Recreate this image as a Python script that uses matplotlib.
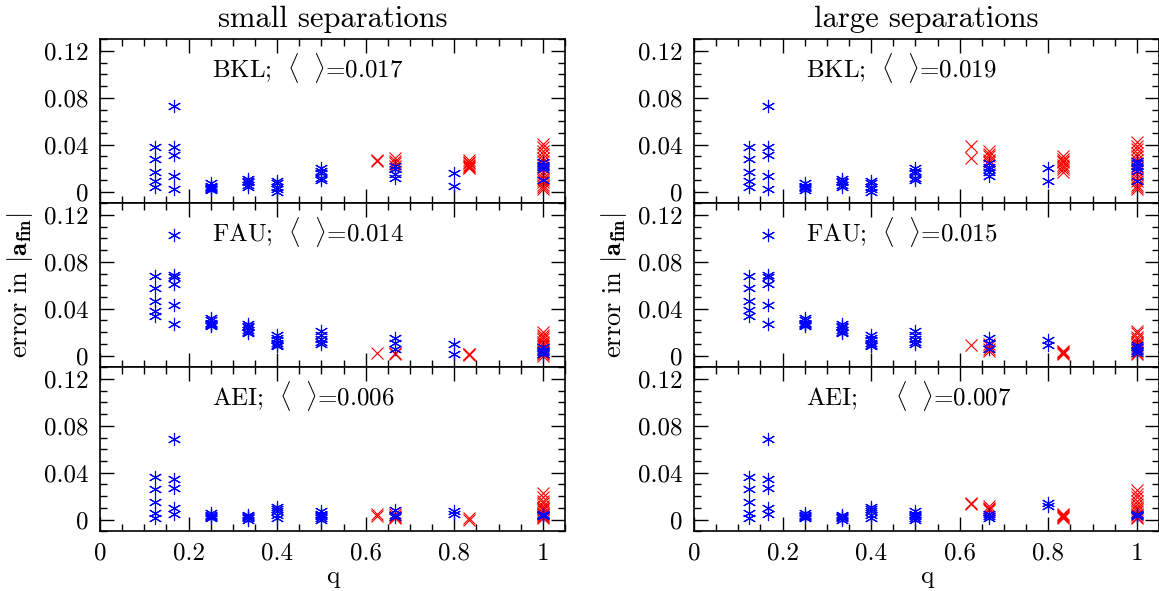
import matplotlib
matplotlib.use("Agg")
import matplotlib.pyplot as plt
from matplotlib.ticker import FixedLocator, FixedFormatter, MultipleLocator

plt.rcParams["font.family"] = "cmr10"
plt.rcParams["mathtext.fontset"] = "cm"
plt.rcParams["axes.unicode_minus"] = False

# mass ratios of the runs
Q_BLUE = [1 / 8, 1 / 6, 1 / 4, 1 / 3, 0.4, 0.5, 2 / 3, 0.8, 1.0]
Q_RED = [0.625, 2 / 3, 5 / 6, 1.0]

# ---- small separations ----
BKL_SMALL_BLUE = [
    [0.038, 0.028, 0.017, 0.009, 0.004],
    [0.073, 0.038, 0.031, 0.013, 0.002],
    [0.007, 0.005, 0.004, 0.003, 0.002, 0.001],
    [0.011, 0.009, 0.008, 0.006, 0.004],
    [0.009, 0.007, 0.004, 0.002, 0.000],
    [0.020, 0.018, 0.016, 0.012, 0.010],
    [0.022, 0.019, 0.015, 0.012],
    [0.016, 0.005],
    [0.025, 0.023, 0.022, 0.021, 0.019, 0.010],
]
BKL_SMALL_RED = [
    [0.027, 0.026],
    [0.029, 0.026, 0.024, 0.022],
    [0.027, 0.025, 0.024, 0.023, 0.022, 0.021, 0.020],
    [0.041, 0.038, 0.035, 0.032, 0.029, 0.026, 0.023, 0.020, 0.017,
     0.014, 0.012, 0.010, 0.008, 0.006, 0.004, 0.002],
]
FAU_SMALL_BLUE = [
    [0.068, 0.058, 0.047, 0.038, 0.034],
    [0.103, 0.069, 0.067, 0.061, 0.043, 0.027],
    [0.032, 0.030, 0.028, 0.027, 0.026, 0.025],
    [0.027, 0.025, 0.024, 0.022, 0.020, 0.019],
    [0.018, 0.015, 0.013, 0.011, 0.009, 0.008],
    [0.021, 0.018, 0.014, 0.012, 0.010],
    [0.015, 0.011, 0.006],
    [0.010, 0.001],
    [0.007, 0.005, 0.004, 0.003, 0.001],
]
FAU_SMALL_RED = [
    [0.002],
    [0.002, 0.001],
    [0.0015, 0.001, 0.0005],
    [0.020, 0.018, 0.016, 0.014, 0.012, 0.010, 0.008, 0.006,
     0.004, 0.003, 0.002, 0.001, 0.000],
]
AEI_SMALL_BLUE = [
    [0.036, 0.026, 0.015, 0.006, 0.001],
    [0.069, 0.035, 0.027, 0.010, 0.005],
    [0.006, 0.004, 0.003, 0.002, 0.001],
    [0.004, 0.003, 0.002, 0.001, 0.000],
    [0.011, 0.009, 0.007, 0.004, 0.001],
    [0.007, 0.005, 0.004, 0.003, 0.001, 0.000],
    [0.008, 0.004, 0.002],
    [0.007, 0.005],
    [0.005, 0.004, 0.004, 0.003],
]
AEI_SMALL_RED = [
    [0.005, 0.003],
    [0.005, 0.003, 0.002, 0.001],
    [0.001, 0.000],
    [0.023, 0.019, 0.016, 0.014, 0.012, 0.010, 0.009, 0.008, 0.006,
     0.005, 0.004, 0.003, 0.002, 0.001],
]

# ---- large separations ----
BKL_LARGE_BLUE = [
    [0.038, 0.028, 0.017, 0.009, 0.004],
    [0.073, 0.038, 0.031, 0.013, 0.002],
    [0.007, 0.005, 0.004, 0.003, 0.001],
    [0.011, 0.009, 0.008, 0.006, 0.004],
    [0.009, 0.007, 0.004, 0.002, 0.000],
    [0.020, 0.018, 0.016, 0.012, 0.010],
    [0.024, 0.021, 0.019, 0.017, 0.013],
    [0.020, 0.009],
    [0.026, 0.024, 0.022, 0.020, 0.018, 0.009],
]
BKL_LARGE_RED = [
    [0.039, 0.029],
    [0.035, 0.032, 0.030, 0.027, 0.025],
    [0.030, 0.028, 0.026, 0.025, 0.023, 0.021, 0.019, 0.017],
    [0.042, 0.039, 0.036, 0.033, 0.030, 0.027, 0.024, 0.021, 0.018,
     0.015, 0.012, 0.009, 0.006, 0.004, 0.002],
]
FAU_LARGE_BLUE = [
    [0.068, 0.058, 0.047, 0.039, 0.034],
    [0.103, 0.069, 0.067, 0.061, 0.043, 0.027],
    [0.032, 0.030, 0.028, 0.027, 0.026, 0.025],
    [0.027, 0.025, 0.024, 0.022, 0.020, 0.019],
    [0.018, 0.015, 0.013, 0.011, 0.009, 0.008],
    [0.021, 0.018, 0.014, 0.012, 0.010],
    [0.015, 0.011, 0.006],
    [0.013, 0.009],
    [0.009, 0.007, 0.005, 0.004, 0.002],
]
FAU_LARGE_RED = [
    [0.009],
    [0.010, 0.008, 0.006, 0.004],
    [0.004, 0.003, 0.002, 0.001],
    [0.021, 0.019, 0.016, 0.014, 0.012, 0.010, 0.008, 0.006,
     0.004, 0.002, 0.001],
]
AEI_LARGE_BLUE = [
    [0.036, 0.026, 0.015, 0.006, 0.001],
    [0.069, 0.035, 0.027, 0.010, 0.005],
    [0.006, 0.004, 0.003, 0.002, 0.001],
    [0.004, 0.003, 0.002, 0.001, 0.000],
    [0.011, 0.009, 0.007, 0.004, 0.001],
    [0.007, 0.005, 0.004, 0.003, 0.001, 0.000],
    [0.005, 0.003, 0.001],
    [0.014, 0.012],
    [0.005, 0.004, 0.004, 0.003],
]
AEI_LARGE_RED = [
    [0.014, 0.013],
    [0.012, 0.010, 0.009, 0.008],
    [0.005, 0.004, 0.003, 0.002, 0.001],
    [0.025, 0.022, 0.019, 0.016, 0.013, 0.011, 0.009, 0.007, 0.005,
     0.004, 0.002, 0.001],
]

CODES = ["BKL", "FAU", "AEI"]
MEANS_SMALL = ["0.017", "0.014", "0.006"]
MEANS_LARGE = ["0.019", "0.015", "0.007"]
SMALL_BLUE = [BKL_SMALL_BLUE, FAU_SMALL_BLUE, AEI_SMALL_BLUE]
SMALL_RED = [BKL_SMALL_RED, FAU_SMALL_RED, AEI_SMALL_RED]
LARGE_BLUE = [BKL_LARGE_BLUE, FAU_LARGE_BLUE, AEI_LARGE_BLUE]
LARGE_RED = [BKL_LARGE_RED, FAU_LARGE_RED, AEI_LARGE_RED]

YTICKS = [0, 0.04, 0.08, 0.12]
YTICK_LABELS = ["0", "0.04", "0.08", "0.12"]
XTICKS = [0, 0.2, 0.4, 0.6, 0.8, 1.0]
XTICK_LABELS = ["0", "0.2", "0.4", "0.6", "0.8", "1"]

STAR = (6, 2, 0)


def style_axis(ax, bottom):
    ax.set_xlim(0, 1.05)
    ax.set_ylim(-0.01, 0.13)
    ax.yaxis.set_major_locator(FixedLocator(YTICKS))
    ax.yaxis.set_major_formatter(FixedFormatter(YTICK_LABELS))
    ax.yaxis.set_minor_locator(MultipleLocator(0.01))
    ax.xaxis.set_major_locator(FixedLocator(XTICKS))
    ax.xaxis.set_minor_locator(MultipleLocator(0.05))
    if bottom:
        ax.xaxis.set_major_formatter(FixedFormatter(XTICK_LABELS))
        ax.set_xlabel("q", fontsize=18, labelpad=1)
    else:
        ax.xaxis.set_major_formatter(FixedFormatter([""] * len(XTICKS)))
    ax.tick_params(which="both", direction="in", top=True, right=True,
                   width=1.0, labelsize=18)
    ax.tick_params(which="major", length=10, pad=8)
    ax.tick_params(which="minor", length=5)
    for s in ax.spines.values():
        s.set_linewidth(1.2)


def draw_column(axes, blue_sets, red_sets, means, title, gap):
    for i, ax in enumerate(axes):
        for q, vals in zip(Q_RED, red_sets[i]):
            ax.plot([q] * len(vals), vals, ls="none", marker="x", ms=8,
                    mec="red", mew=0.8)
        for q, vals in zip(Q_BLUE, blue_sets[i]):
            ax.plot([q] * len(vals), vals, ls="none", marker=STAR, ms=9.5,
                    mec="blue", mew=0.8)
        sep = gap if i == 2 else "\\ "
        ax.text(0.24, 0.825,
                CODES[i] + r"; $" + sep + r"\langle\ \ \rangle$=" + means[i],
                transform=ax.transAxes, fontsize=18, ha="left", va="center")
        style_axis(ax, bottom=(i == 2))
    axes[0].set_title(title, fontsize=22, pad=9)
    axes[1].set_ylabel(r"error in $|\mathbf{a}_{\mathbf{fin}}|$", fontsize=19,
                       labelpad=7)


fig = plt.figure(figsize=(11.59, 5.91), dpi=100)
W = 465 / 1159
H = 164 / 591
bottoms = [1 - 203.3 / 591, 1 - 367.3 / 591, 1 - 531.3 / 591]

left_axes = [fig.add_axes([100 / 1159, b, W, H]) for b in bottoms]
right_axes = [fig.add_axes([694 / 1159, b, W, H]) for b in bottoms]

draw_column(left_axes, SMALL_BLUE, SMALL_RED, MEANS_SMALL,
            "small separations", "\\ ")
draw_column(right_axes, LARGE_BLUE, LARGE_RED, MEANS_LARGE,
            "large separations", "\\ \\ \\ \\ ")

fig.savefig("out.png", dpi=100)
